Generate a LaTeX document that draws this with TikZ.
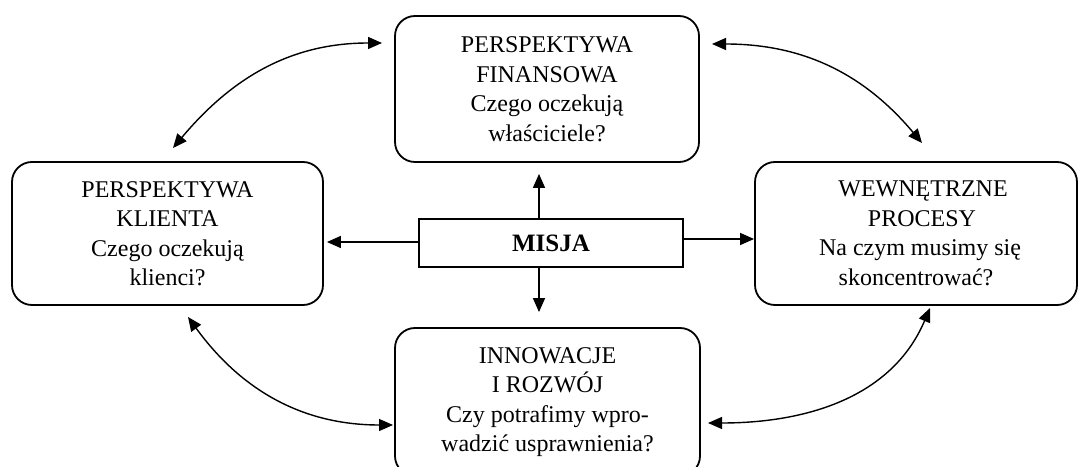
\documentclass[tikz,border=0pt]{standalone}
\usepackage{fontspec}
\setmainfont{Liberation Serif}
\usetikzlibrary{arrows.meta,calc}
\begin{document}
\begin{tikzpicture}[x=1pt,y=1pt,
  rbox/.style={draw,line width=1.8pt,rounded corners=20pt,align=center,
    font=\fontsize{24}{29.5}\selectfont,inner sep=0pt},
  mbox/.style={draw,line width=1.4pt,inner sep=0pt,font=\fontsize{25}{28}\selectfont\bfseries},
  arr/.style={line width=1.4pt,-{Triangle[length=14pt,width=12pt]}},
  darr/.style={line width=1.4pt,{Triangle[length=14pt,width=12pt]}-{Triangle[length=14pt,width=12pt]}}]
\useasboundingbox (0,0) rectangle (1079,466);
\node[rbox,minimum width=304pt,minimum height=146pt] (top) at (547,377)
  {PERSPEKTYWA\\FINANSOWA\\Czego oczekują\\właściciele?};
\node[rbox,minimum width=311pt,minimum height=143pt] (left) at (167.5,232.5)
  {PERSPEKTYWA\\KLIENTA\\Czego oczekują\\klienci?};
\node[rbox,minimum width=322pt,minimum height=143pt] (right) at (916,232.5)
  {\hspace*{14pt}WEWNĘTRZNE\\\hspace*{12pt}PROCESY\\\hspace*{8pt}Na czym musimy się\\skoncentrować?};
\node[rbox,minimum width=305pt,minimum height=148pt] (bottom) at (547.5,64)
  {INNOWACJE\\I ROZWÓJ\\Czy potrafimy wpro-\\wadzić usprawnienia?};
\node[mbox,minimum width=264pt,minimum height=48pt] (misja) at (551,223) {MISJA};
% straight arrows
\draw[arr] ([xshift=-12pt]misja.north) -- ([xshift=-8pt,yshift=-11pt]top.south);
\draw[arr] ([xshift=-12pt]misja.south) -- ([xshift=-8.5pt,yshift=15pt]bottom.north);
\draw[arr] ([yshift=1pt]misja.west) -- ([xshift=3pt,yshift=1pt]misja.west -| left.east);
\draw[arr] ([yshift=4pt]misja.east) -- ([yshift=4pt]misja.east -| right.west);
% curved arrows
\coordinate (a) at (382,423);
\coordinate (b) at (173,318);
\coordinate (c) at (712,422);
\coordinate (d) at (922,323);
\coordinate (e) at (188,149);
\coordinate (f) at (393,41);
\coordinate (g) at (930,158);
\coordinate (h) at (708,43);
\draw[darr] (a) to[out=180,in=50] (b);
\draw[darr] (c) to[out=0,in=130] (d);
\draw[darr] (e) to[out=-54,in=180] (f);
\draw[darr] (g) to[out=247,in=0] (h);
\end{tikzpicture}
\end{document}
